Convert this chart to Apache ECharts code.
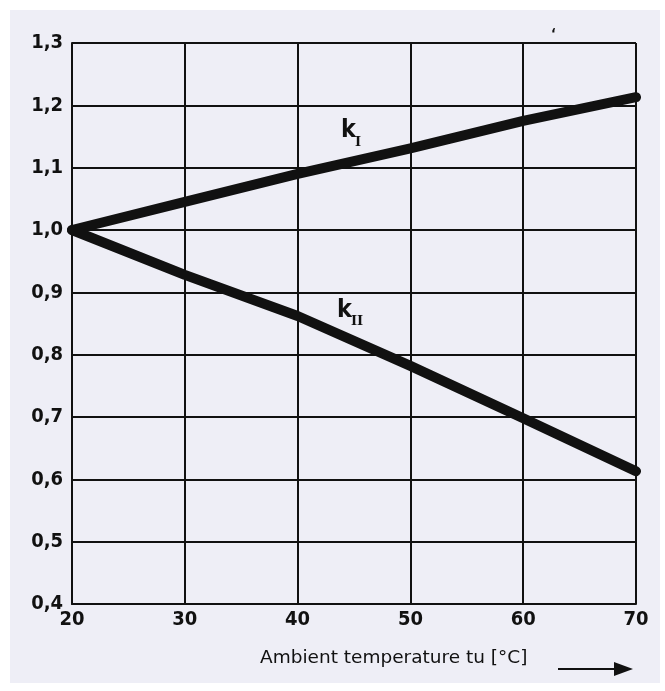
<!DOCTYPE html>
<html>
<head>
<meta charset="utf-8">
<script src="https://cdn.jsdelivr.net/npm/echarts@6/dist/echarts.min.js"></script>
<style>
html,body{margin:0;padding:0;background:#fff;}
#chart{width:665px;height:691px;}
</style>
</head>
<body>
<div id="chart"></div>
<script>
// Data
const temperatures = [20, 30, 40, 50, 60, 70];
const kI  = [1.000, 1.045, 1.090, 1.131, 1.175, 1.213];
const kII = [1.000, 0.928, 0.862, 0.782, 0.698, 0.613];
const xTitle = 'Ambient temperature tu [°C]';

const chart = echarts.init(document.getElementById('chart'));
const FONT = 'DejaVu Sans Condensed';

function pairs(xs, ys){ return xs.map((x,i)=>[x, ys[i]]); }

const lineStyle = {color:'#111', width:10, cap:'round', join:'round'};

chart.setOption({
  backgroundColor:'#ffffff',
  animation:false,
  grid:{left:72, right:29, top:43, bottom:87, containLabel:false},
  xAxis:{
    type:'value', min:20, max:70, interval:10,
    axisLine:{show:true, lineStyle:{color:'#111', width:2}},
    axisTick:{show:false},
    splitLine:{show:true, lineStyle:{color:'#111', width:2}},
    axisLabel:{color:'#111', fontFamily:FONT, fontWeight:'bold', fontSize:20, margin:6}
  },
  yAxis:{
    type:'value', min:0.4, max:1.3, interval:0.1,
    axisLine:{show:true, lineStyle:{color:'#111', width:2}},
    axisTick:{show:false},
    splitLine:{show:true, lineStyle:{color:'#111', width:2}},
    axisLabel:{color:'#111', fontFamily:FONT, fontWeight:'bold', fontSize:20, margin:9,
      formatter:v=>v.toFixed(1).replace('.', ',')}
  },
  series:[
    {type:'line', data:pairs(temperatures,kI), showSymbol:false, lineStyle:lineStyle, z:5},
    {type:'line', data:pairs(temperatures,kII), showSymbol:false, lineStyle:lineStyle, z:5}
  ],
  graphic:[
    {type:'rect', z:-10, shape:{x:10, y:10, width:650, height:673}, style:{fill:'#eeeef6'}},
    {type:'text', z:10, x:341, y:118, style:{text:'k', fontFamily:FONT, fontWeight:'bold', fontSize:25, fill:'#111'}},
    {type:'text', z:10, x:355, y:136, style:{text:'I', fontFamily:'DejaVu Serif', fontWeight:'bold', fontSize:13, fill:'#111'}},
    {type:'text', z:10, x:337, y:298, style:{text:'k', fontFamily:FONT, fontWeight:'bold', fontSize:25, fill:'#111'}},
    {type:'text', z:10, x:351, y:315, style:{text:'II', fontFamily:'DejaVu Serif', fontWeight:'bold', fontSize:13, fill:'#111'}},
    {type:'text', z:10, x:260, y:649, style:{text:xTitle, fontFamily:'DejaVu Sans', fontSize:18.5, fill:'#111'}},
    {type:'line', z:10, shape:{x1:558, y1:669, x2:618, y2:669}, style:{stroke:'#111', lineWidth:2}},
    {type:'polygon', z:10, shape:{points:[[614,662],[633,669],[614,676]]}, style:{fill:'#111'}},
    {type:'text', z:10, x:551, y:27, style:{text:'‘', fontFamily:FONT, fontWeight:'bold', fontSize:14, fill:'#111'}}
  ]
});
</script>
</body>
</html>
